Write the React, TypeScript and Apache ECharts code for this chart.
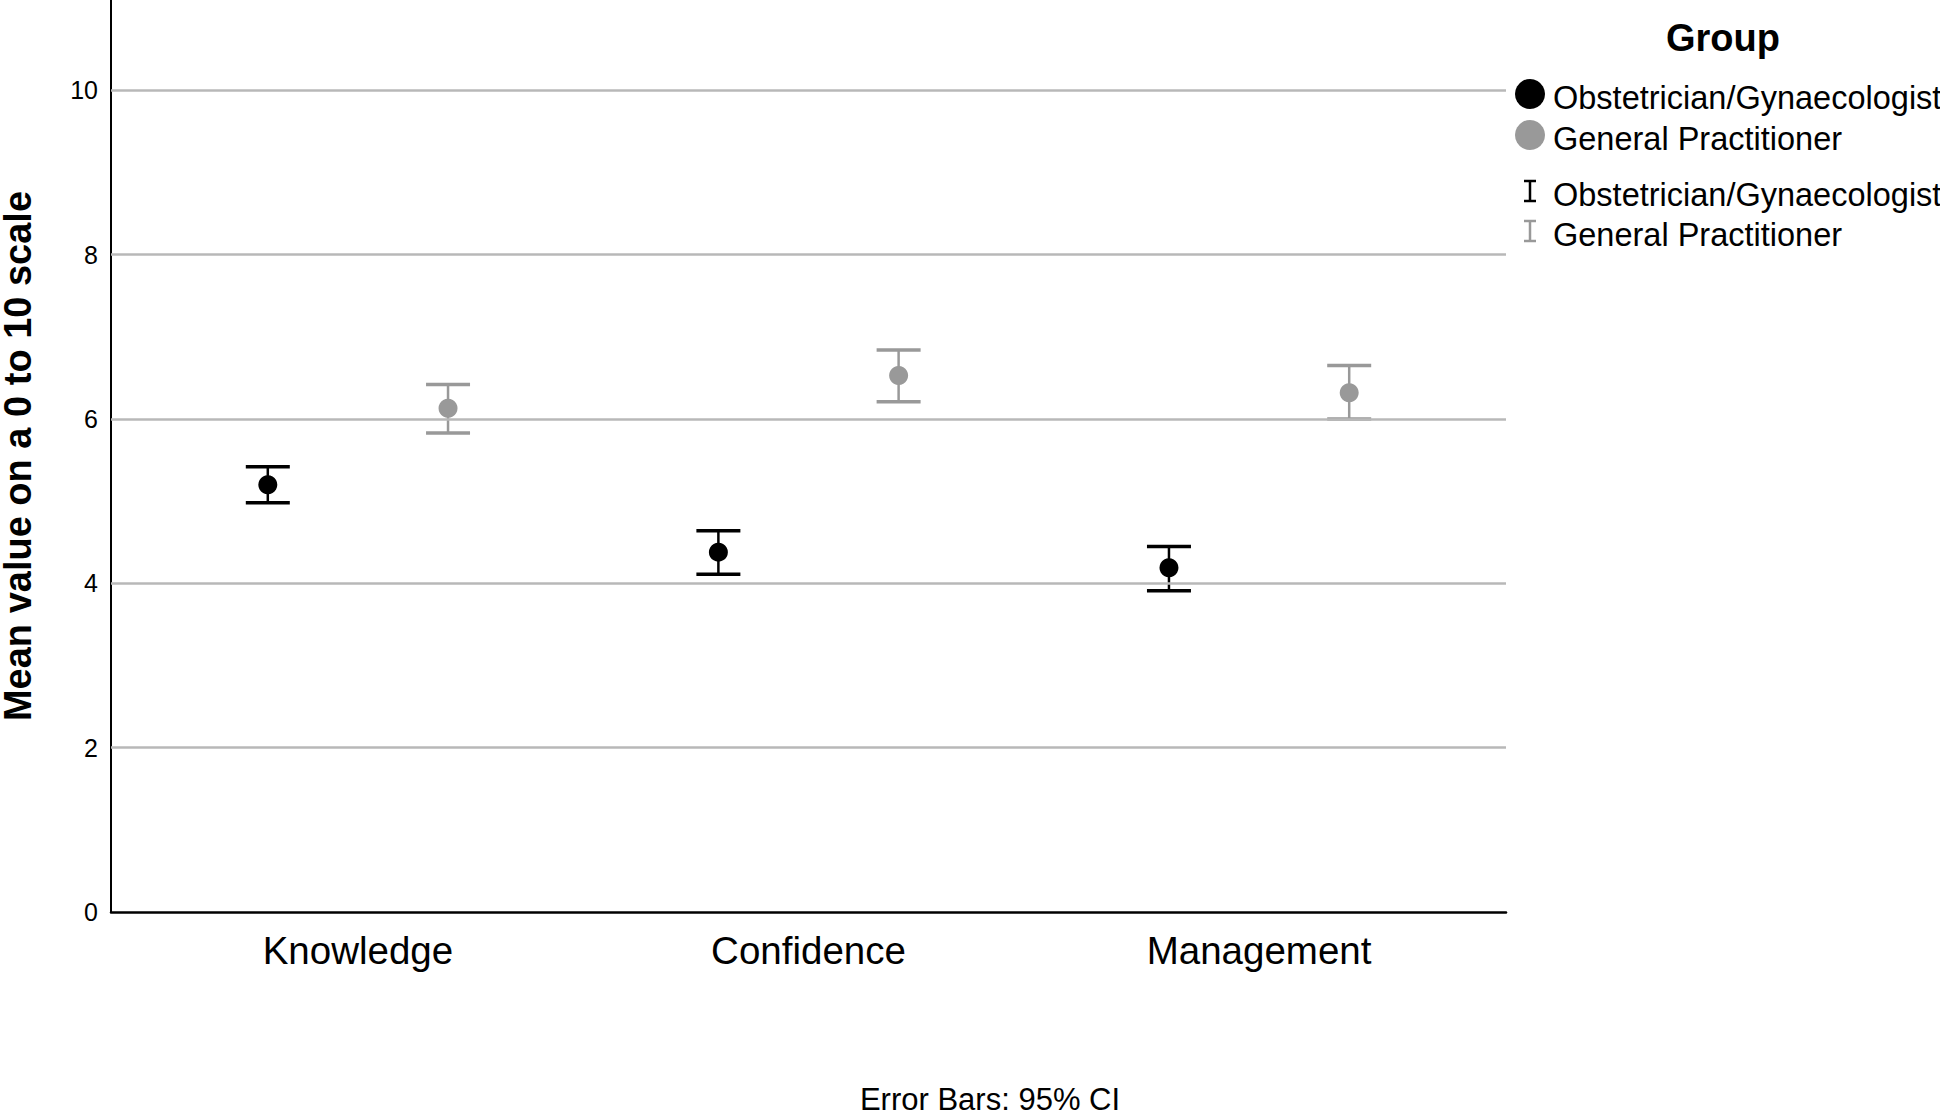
import React, { useEffect, useRef } from "react";
import * as echarts from "echarts";

const categories = ["Knowledge", "Confidence", "Management"];
const groups = ["Obstetrician/Gynaecologist", "General Practitioner"];
const obMean = [5.2, 4.38, 4.19];
const obLower = [4.98, 4.11, 3.91];
const obUpper = [5.42, 4.64, 4.45];
const gpMean = [6.13, 6.53, 6.32];
const gpLower = [5.83, 6.21, 6.0];
const gpUpper = [6.42, 6.84, 6.65];
const yTicks = [0, 2, 4, 6, 8, 10];

const FONT = "'Liberation Sans', Arial, Helvetica, sans-serif";
const BLACK = "#000000";
const GREY = "#999999";
const GRID = "#b8b8b8";
const OFFSET = 0.2;

export default function App() {
  const ref = useRef<HTMLDivElement>(null);
  useEffect(() => {
    if (!ref.current) return;
    const chart = echarts.init(ref.current, null, { renderer: "svg" });

    const errData = (lo: number[], hi: number[], off: number) =>
      categories.map((_, i) => [i + off, lo[i], hi[i]]);
    const meanData = (m: number[], off: number) =>
      categories.map((_, i) => [i + off, m[i]]);

    const errRender = (color: string) => (params: any, api: any) => {
      const x = api.value(0);
      const top = api.coord([x, api.value(2)]);
      const bot = api.coord([x, api.value(1)]);
      const hw = 22;
      return {
        type: "group",
        children: [
          { type: "line", shape: { x1: top[0], y1: top[1], x2: bot[0], y2: bot[1] }, style: { stroke: color, lineWidth: 2.5 } },
          { type: "line", shape: { x1: top[0] - hw, y1: top[1], x2: top[0] + hw, y2: top[1] }, style: { stroke: color, lineWidth: 3.5 } },
          { type: "line", shape: { x1: bot[0] - hw, y1: bot[1], x2: bot[0] + hw, y2: bot[1] }, style: { stroke: color, lineWidth: 3.5 } },
        ],
      };
    };

    const legendX = 1530;
    const textX = 1553;
    const legendRows = [
      { y: 94, kind: "dot", color: BLACK, label: groups[0] },
      { y: 135, kind: "dot", color: GREY, label: groups[1] },
      { y: 191, kind: "bar", color: BLACK, label: groups[0] },
      { y: 231, kind: "bar", color: GREY, label: groups[1] },
    ];
    const legendGraphics: any[] = [
      {
        type: "text",
        x: 1723,
        y: 38,
        style: { text: "Group", font: `bold 38px ${FONT}`, fill: BLACK, align: "center", verticalAlign: "middle" },
      },
    ];
    legendRows.forEach((r) => {
      if (r.kind === "dot") {
        legendGraphics.push({ type: "circle", shape: { cx: legendX, cy: r.y, r: 15 }, style: { fill: r.color } });
      } else {
        legendGraphics.push({ type: "line", shape: { x1: legendX, y1: r.y - 10, x2: legendX, y2: r.y + 10 }, style: { stroke: r.color, lineWidth: 2.5 } });
        legendGraphics.push({ type: "line", shape: { x1: legendX - 6, y1: r.y - 10, x2: legendX + 6, y2: r.y - 10 }, style: { stroke: r.color, lineWidth: 2.5 } });
        legendGraphics.push({ type: "line", shape: { x1: legendX - 6, y1: r.y + 10, x2: legendX + 6, y2: r.y + 10 }, style: { stroke: r.color, lineWidth: 2.5 } });
      }
      legendGraphics.push({
        type: "text",
        x: textX,
        y: r.y + 4,
        style: { text: r.label, font: `32.5px ${FONT}`, fill: BLACK, align: "left", verticalAlign: "middle" },
      });
    });
    legendGraphics.push({
      type: "text",
      x: 990,
      y: 1099,
      style: { text: "Error Bars: 95% CI", font: `31px ${FONT}`, fill: BLACK, align: "center", verticalAlign: "middle" },
    });

    chart.setOption({
      animation: false,
      backgroundColor: "#ffffff",
      textStyle: { fontFamily: FONT },
      grid: { left: 111, right: 434, top: 0, bottom: 205, containLabel: false, outerBoundsMode: "none" },
      xAxis: {
        type: "value",
        min: -0.548,
        max: 2.548,
        axisLine: { show: true, onZero: false, lineStyle: { color: BLACK, width: 2.5 } },
        axisTick: { show: false },
        splitLine: { show: false },
        axisLabel: {
          customValues: categories.map((_, i) => i),
          formatter: (v: number) => categories[Math.round(v)] ?? "",
          fontSize: 38.5,
          color: BLACK,
          margin: 19,
          fontFamily: FONT,
        },
      },
      yAxis: {
        type: "value",
        min: 0,
        max: 11.1,
        name: "Mean value on a 0 to 10 scale",
        nameLocation: "middle",
        nameGap: 74,
        nameTextStyle: { fontSize: 38, fontWeight: "bold", color: BLACK, fontFamily: FONT },
        axisLine: { show: true, onZero: false, lineStyle: { color: BLACK, width: 2 } },
        axisTick: { show: false },
        splitLine: { show: false },
        axisLabel: {
          customValues: yTicks,
          fontSize: 25,
          color: BLACK,
          margin: 13,
          fontFamily: FONT,
        },
      },
      graphic: legendGraphics,
      series: [
        {
          type: "scatter",
          data: [],
          z: 1,
          silent: true,
          markLine: {
            silent: true,
            symbol: "none",
            label: { show: false },
            lineStyle: { color: GRID, width: 2.5, type: "solid" },
            data: yTicks.filter((v) => v > 0).map((v) => ({ yAxis: v })),
          },
        },
        {
          type: "custom",
          name: groups[0] + " CI",
          renderItem: errRender(BLACK),
          data: errData(obLower, obUpper, -OFFSET),
          encode: { x: 0, y: [1, 2] },
          z: 3,
        },
        {
          type: "custom",
          name: groups[1] + " CI",
          renderItem: errRender(GREY),
          data: errData(gpLower, gpUpper, OFFSET),
          encode: { x: 0, y: [1, 2] },
          z: 3,
        },
        {
          type: "scatter",
          name: groups[0],
          data: meanData(obMean, -OFFSET),
          symbol: "circle",
          symbolSize: 19,
          itemStyle: { color: BLACK, opacity: 1 },
          z: 4,
        },
        {
          type: "scatter",
          name: groups[1],
          data: meanData(gpMean, OFFSET),
          symbol: "circle",
          symbolSize: 19,
          itemStyle: { color: GREY, opacity: 1 },
          z: 4,
        },
      ],
    });
    return () => chart.dispose();
  }, []);
  return (
    <div
      ref={ref}
      style={{ position: "absolute", left: 0, top: 0, width: 1940, height: 1117, background: "#fff" }}
    />
  );
}
